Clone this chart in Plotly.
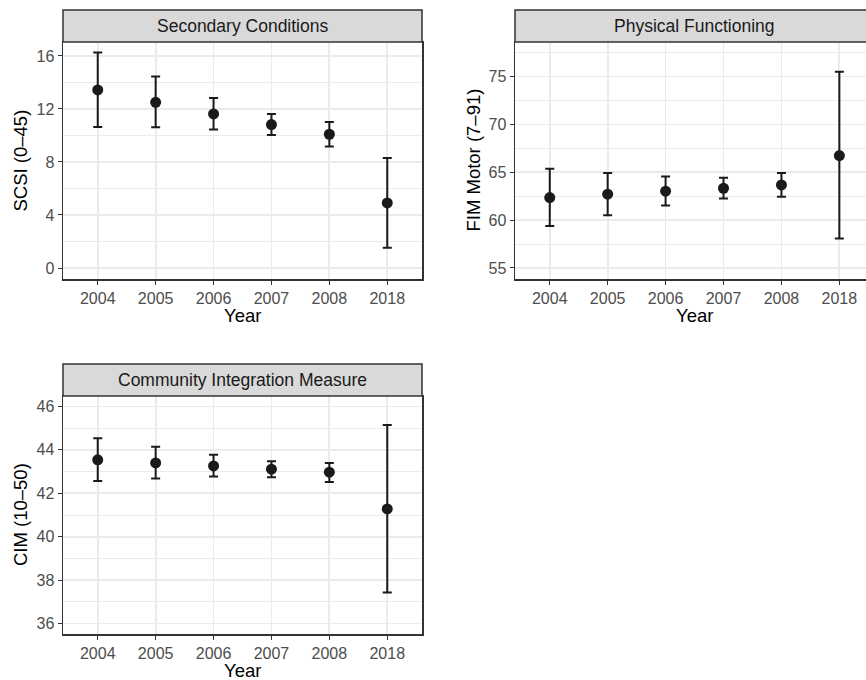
import plotly.graph_objects as go

years = ["2004", "2005", "2006", "2007", "2008", "2018"]

scsi_mean = [13.43, 12.50, 11.62, 10.82, 10.09, 4.91]
scsi_lower = [10.64, 10.62, 10.44, 10.04, 9.16, 1.53]
scsi_upper = [16.25, 14.44, 12.83, 11.62, 11.02, 8.30]

fim_mean = [62.36, 62.71, 63.02, 63.33, 63.68, 66.74]
fim_lower = [59.38, 60.52, 61.53, 62.26, 62.43, 58.09]
fim_upper = [65.38, 64.93, 64.55, 64.44, 64.93, 75.49]

cim_mean = [43.54, 43.40, 43.26, 43.11, 42.97, 41.28]
cim_lower = [42.57, 42.68, 42.77, 42.74, 42.52, 37.43]
cim_upper = [44.54, 44.14, 43.77, 43.48, 43.40, 45.14]

panel_titles = ["Secondary Conditions", "Physical Functioning", "Community Integration Measure"]
y_titles = ["SCSI (0\u201345)", "FIM Motor (7\u201391)", "CIM (10\u201350)"]

W, H = 866, 680
FONT = "Liberation Sans, Arial, Helvetica, sans-serif"
BORDER = "#333333"
GRID = "#EBEBEB"

def px_x(v):
    return v / W

def px_y(v):
    return 1 - v / H

# panel geometry (pixels)
panels = [
    dict(x0=63, x1=422, strip_top=10, top=42, bottom=279, xr=[-0.6, 5.6], yr=[-0.83, 17.05], dtick=4, tick0=0, ytitle_x=20, right=True),
    dict(x0=515, x1=866, strip_top=10, top=42, bottom=279, xr=[-0.6, 5.46], yr=[53.85, 78.61], dtick=5, tick0=55, ytitle_x=473, right=False),
    dict(x0=63, x1=422, strip_top=364, top=396, bottom=634, xr=[-0.6, 5.6], yr=[35.52, 46.48], dtick=2, tick0=36, ytitle_x=20, right=True),
]
series = [(scsi_mean, scsi_lower, scsi_upper), (fim_mean, fim_lower, fim_upper), (cim_mean, cim_lower, cim_upper)]

fig = go.Figure()
shapes = []
annotations = []
layout = {}

for i, (p, (m, lo, up)) in enumerate(zip(panels, series)):
    n = i + 1
    xa = "x" if n == 1 else f"x{n}"
    ya = "y" if n == 1 else f"y{n}"
    xkey = "xaxis" if n == 1 else f"xaxis{n}"
    ykey = "yaxis" if n == 1 else f"yaxis{n}"

    fig.add_trace(go.Scatter(
        x=years, y=m, mode="markers",
        marker=dict(color="#1A1A1A", size=11),
        error_y=dict(type="data", symmetric=False,
                     array=[u - v for u, v in zip(up, m)],
                     arrayminus=[v - l for v, l in zip(m, lo)],
                     color="#1A1A1A", thickness=2, width=4.5),
        xaxis=xa, yaxis=ya, showlegend=False, cliponaxis=False,
    ))

    layout[xkey] = dict(
        domain=[px_x(p["x0"]), min(1.0, px_x(p["x1"]))],
        anchor=ya, type="category", categoryorder="array", categoryarray=years,
        range=p["xr"], showgrid=True, gridcolor=GRID, gridwidth=1.8,
        showline=True, linecolor=BORDER, linewidth=1.5, mirror=True,
        ticks="outside", ticklen=4, tickcolor=BORDER, tickwidth=1,
        tickfont=dict(family=FONT, size=16, color="#4D4D4D"),
        zeroline=False, fixedrange=True,
    )
    layout[ykey] = dict(
        domain=[px_y(p["bottom"]), px_y(p["top"])],
        anchor=xa, range=p["yr"], tickmode="linear", dtick=p["dtick"], tick0=p["tick0"],
        showgrid=True, gridcolor=GRID, gridwidth=1.8,
        minor=dict(dtick=p["dtick"] / 2, tick0=p["tick0"], showgrid=True, gridcolor=GRID, gridwidth=1, ticks=""),
        showline=True, linecolor=BORDER, linewidth=1.5, mirror=p["right"],
        ticks="outside", ticklen=4, tickcolor=BORDER, tickwidth=1,
        tickfont=dict(family=FONT, size=16, color="#4D4D4D"),
        zeroline=False, fixedrange=True,
    )

    # strip
    sx1 = px_x(p["x1"]) if p["right"] else 1.02
    shapes.append(dict(type="rect", xref="paper", yref="paper",
                       x0=px_x(p["x0"]), x1=sx1, y0=px_y(p["top"]), y1=px_y(p["strip_top"]),
                       fillcolor="#D9D9D9", line=dict(color=BORDER, width=1.5), layer="above"))
    strip_cx = (p["x0"] + (p["x1"] if p["right"] else p["x0"] + 359)) / 2
    annotations.append(dict(text=panel_titles[i], xref="paper", yref="paper",
                            x=px_x(strip_cx), y=px_y((p["top"] + p["strip_top"]) / 2),
                            showarrow=False, xanchor="center", yanchor="middle",
                            font=dict(family=FONT, size=17.5, color="#1A1A1A")))
    # x title
    annotations.append(dict(text="Year", xref="paper", yref="paper",
                            x=px_x(strip_cx), y=px_y(p["bottom"] + 36),
                            showarrow=False, xanchor="center", yanchor="middle",
                            font=dict(family=FONT, size=18.5, color="#000000")))
    # y title
    annotations.append(dict(text=y_titles[i], xref="paper", yref="paper",
                            x=px_x(p["ytitle_x"]), y=px_y((p["top"] + p["bottom"]) / 2),
                            showarrow=False, xanchor="center", yanchor="middle", textangle=-90,
                            font=dict(family=FONT, size=18.5, color="#000000")))

fig.update_layout(
    width=W, height=H, margin=dict(l=0, r=0, t=0, b=0),
    paper_bgcolor="white", plot_bgcolor="white",
    shapes=shapes, annotations=annotations, **layout,
)

fig.write_html("out.html", config={"displayModeBar": False, "staticPlot": True},
               post_script="document.body.style.margin='0px';document.body.style.overflow='hidden';")
